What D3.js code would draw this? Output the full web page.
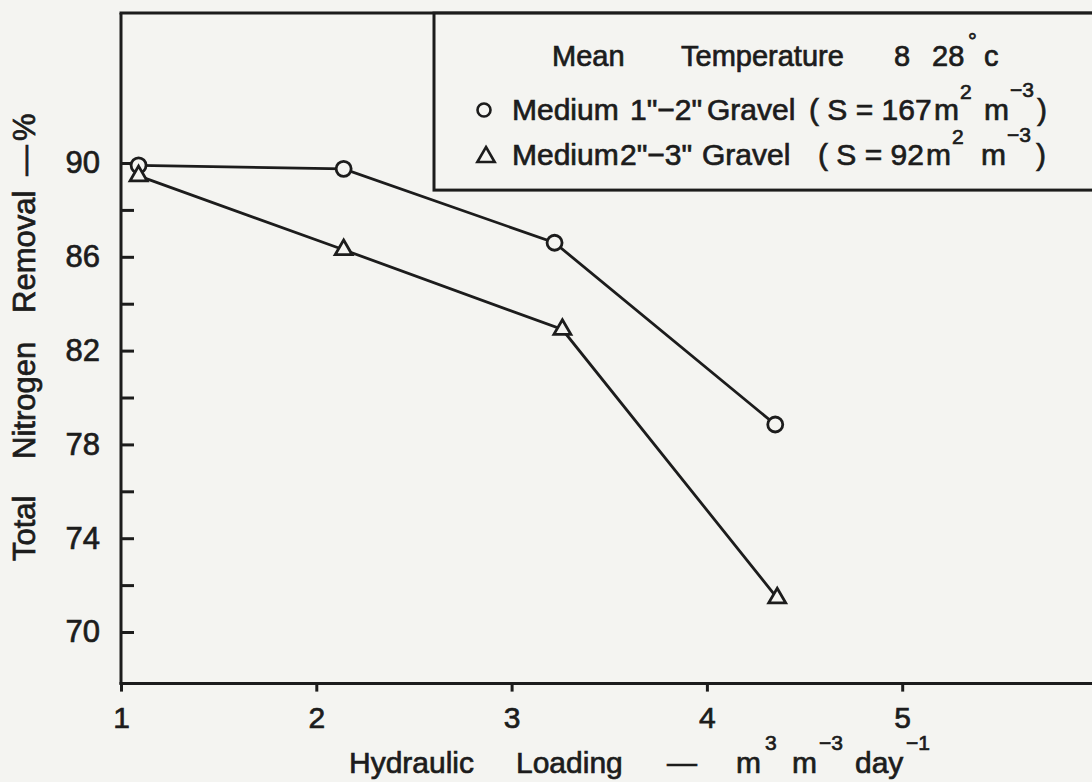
<!DOCTYPE html>
<html><head><meta charset="utf-8">
<script src="https://cdn.jsdelivr.net/npm/d3@7"></script>
<style>
body{margin:0;background:#f4f4f1}
svg{display:block}
text{font-family:"Liberation Sans",Arial,sans-serif;fill:#1c1c1c;stroke:#1c1c1c;stroke-width:0.7;white-space:pre}
</style>
</head><body><svg id="c" width="1092" height="782"></svg>
<script>
// ---- data ----
const loadingGravel12 = [1.09, 2.14, 3.22, 4.35];
const removalGravel12 = [89.9, 89.75, 86.6, 78.85];
const loadingGravel23 = [1.09, 2.14, 3.26, 4.36];
const removalGravel23 = [89.45, 86.3, 82.9, 71.45];
const yTickValues = [70, 72, 74, 76, 78, 80, 82, 84, 86, 88, 90];
const yTickLabels = [70, 74, 78, 82, 86, 90];
const xTickValues = [1, 2, 3, 4, 5];

const BG = "#f4f4f1", INK = "#1c1c1c";
const svg = d3.select("#c");
svg.append("rect").attr("width", 1092).attr("height", 782).attr("fill", BG);

const x = d3.scaleLinear().domain([1, 6]).range([121, 1097.5]);
const y = d3.scaleLinear().domain([67.8, 96.35]).range([683.6, 14.1]);

// y axis (ticks inside)
const gy = svg.append("g").attr("transform", `translate(${x(1)},0)`)
  .call(d3.axisLeft(y).tickValues(yTickValues).tickSize(-13).tickSizeOuter(0).tickPadding(21)
    .tickFormat(d => yTickLabels.includes(d) ? d : ""));
gy.select(".domain").remove();
gy.selectAll(".tick line").attr("stroke", INK).attr("stroke-width", 3);
gy.selectAll(".tick text").attr("font-size", 31).attr("font-family", null).attr("fill", INK);

// x axis (ticks outside, downward)
const gx = svg.append("g").attr("transform", `translate(0,${y(67.8)})`)
  .call(d3.axisBottom(x).tickValues(xTickValues).tickSize(8).tickSizeOuter(0).tickPadding(15)
    .tickFormat(d3.format("d")));
gx.select(".domain").remove();
gx.selectAll(".tick line").attr("stroke", INK).attr("stroke-width", 3);
gx.selectAll(".tick text").attr("font-size", 30).attr("font-family", null).attr("fill", INK);

// frame
const frame = svg.append("g").attr("stroke", INK).attr("stroke-width", 3).attr("fill", "none");
frame.append("line").attr("x1", x(1)).attr("x2", x(1)).attr("y1", y(96.35) - 1).attr("y2", y(67.8) + 1);
frame.append("line").attr("x1", x(1) - 1.5).attr("x2", 1092).attr("y1", y(96.35) - 1).attr("y2", y(96.35) - 1);
frame.append("line").attr("x1", x(1) - 1.5).attr("x2", 1092).attr("y1", y(67.8)).attr("y2", y(67.8));

// series
const s1 = loadingGravel12.map((v, i) => [v, removalGravel12[i]]);
const s2 = loadingGravel23.map((v, i) => [v, removalGravel23[i]]);
const line = d3.line().x(d => x(d[0])).y(d => y(d[1]));
[s1, s2].forEach(s => svg.append("path").attr("d", line(s)).attr("fill", "none")
  .attr("stroke", INK).attr("stroke-width", 2.8));

svg.selectAll("circle.m").data(s1).join("circle").attr("class", "m")
  .attr("cx", d => x(d[0])).attr("cy", d => y(d[1])).attr("r", 7.5)
  .attr("fill", BG).attr("stroke", INK).attr("stroke-width", 2.8);
const tri = d3.symbol().type(d3.symbolTriangle).size(125);
svg.selectAll("path.t").data(s2).join("path").attr("class", "t")
  .attr("d", tri).attr("transform", d => `translate(${x(d[0])},${y(d[1])})`)
  .attr("fill", BG).attr("stroke", INK).attr("stroke-width", 2.8);

// legend box
svg.append("rect").attr("x", 434).attr("y", y(96.35) - 1).attr("width", 700).attr("height", 177)
  .attr("fill", BG).attr("stroke", INK).attr("stroke-width", 3);

function seg(parent, xx, txt, size, dy) {
  const t = parent.append("tspan").attr("x", xx).text(txt);
  if (size) t.attr("font-size", size);
  if (dy) t.attr("dy", dy);
  return t;
}
// line 1
const l1 = svg.append("text").attr("y", 66).attr("font-size", 29);
seg(l1, 552, "Mean");
seg(l1, 681, "Temperature");
seg(l1, 894, "8");
seg(l1, 932, "28");
seg(l1, 968, "°", 22, -17);
seg(l1, 984, "c", null, 17);

function legendRow(yb, xs, words) {
  const t = svg.append("text").attr("y", yb).attr("font-size", 30);
  seg(t, xs[0], words[0]);
  seg(t, xs[1], words[1]);
  seg(t, xs[2], "Gravel");
  seg(t, xs[3], words[2]);
  seg(t, xs[4], "m");
  seg(t, xs[5], "2", 21, -21);
  seg(t, xs[6], "m", null, 21);
  seg(t, xs[7], "−3", 21, -23);
  seg(t, xs[8], ")", null, 23);
}
legendRow(120, [512, 630, 707, 809, 934, 960, 984, 1010, 1037], ["Medium", "1\"−2\"", "( S = 167"]);
legendRow(165, [512, 620, 702, 818, 926, 952, 981, 1007, 1036], ["Medium", "2\"−3\"", "( S = 92"]);
svg.append("circle").attr("cx", 484).attr("cy", 110).attr("r", 6.5)
  .attr("fill", "none").attr("stroke", INK).attr("stroke-width", 2.6);
svg.append("path").attr("d", d3.symbol().type(d3.symbolTriangle).size(130))
  .attr("transform", "translate(486,157)").attr("fill", "none").attr("stroke", INK).attr("stroke-width", 2.6);

// axis titles
const yt = svg.append("g").attr("transform", "translate(35,0) rotate(-90)");
const ytt = yt.append("text").attr("font-size", 31);
seg(ytt, -561, "Total");
seg(ytt, -459, "Nitrogen");
seg(ytt, -313, "Removal");
seg(ytt, -176, "—");
seg(ytt, -141, "%");

const xt = svg.append("text").attr("y", 773).attr("font-size", 30);
seg(xt, 349, "Hydraulic");
seg(xt, 516, "Loading");
seg(xt, 667, "—");
seg(xt, 736, "m");
seg(xt, 765, "3", 21, -23);
seg(xt, 792, "m", null, 23);
seg(xt, 819, "−3", 21, -23);
seg(xt, 855, "day", null, 23);
seg(xt, 906, "−1", 21, -23);
</script></body></html>
